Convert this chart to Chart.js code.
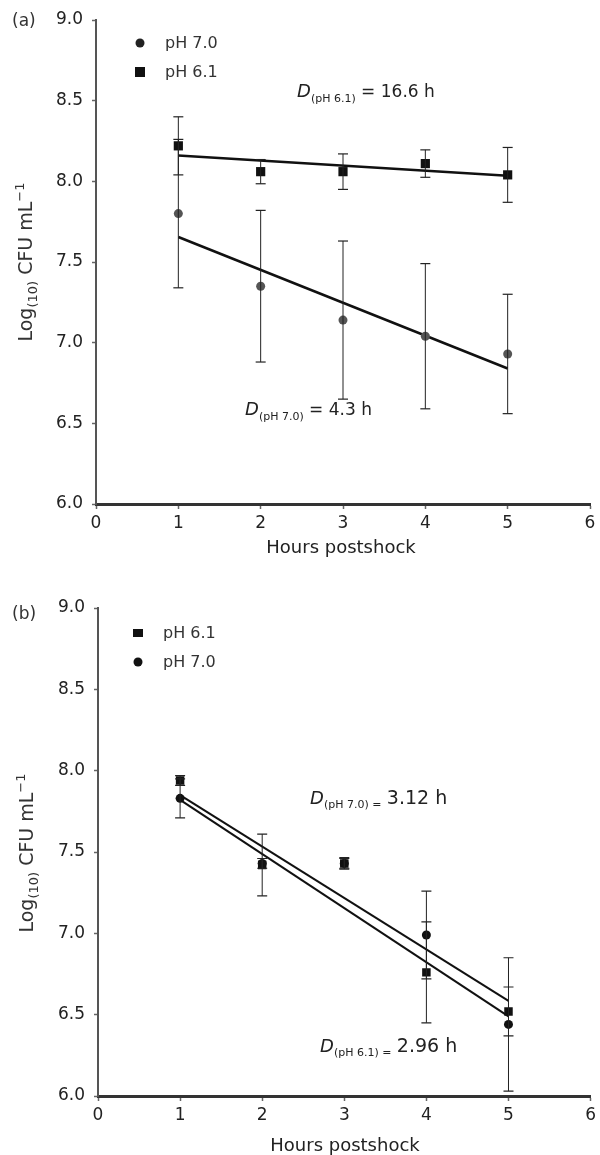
<!DOCTYPE html>
<html>
<head>
<meta charset="utf-8">
<script src="https://cdn.jsdelivr.net/npm/chart.js@4.4.1/dist/chart.umd.min.js"></script>
<style>
  html, body { margin:0; padding:0; background:#fff; }
  #wrap { position:relative; width:600px; height:1155px; overflow:hidden; font-family:"DejaVu Sans", sans-serif; color:#333; }
  .cv { position:absolute; left:0; }
  .t { position:absolute; white-space:nowrap; transform:translateY(-50%); line-height:1; }
  .ytitle { position:absolute; white-space:nowrap; transform:translate(-50%,-50%) rotate(-90deg); font-size:19px; line-height:1; color:#333; }
  .ytitle sub, .ytitle sup { font-size:13px; }
  .xtitle { position:absolute; white-space:nowrap; transform:translate(-50%,-50%); font-size:18px; line-height:1; color:#222; }
  .ann { position:absolute; white-space:nowrap; transform:translateY(-50%); font-size:17px; line-height:1; color:#222; }
  .ann i { font-size:18px; }
  .ann sub { font-size:11px; }
  .annb { font-size:19px; }
  .lg { position:absolute; white-space:nowrap; transform:translateY(-50%); font-size:16px; line-height:1; color:#333; }
  .mk { position:absolute; background:#111; transform:translate(-50%,-50%); }
</style>
</head>
<body>
<div id="wrap">
  <canvas id="ca" class="cv" width="600" height="577" style="top:0;width:600px;height:577px"></canvas>
  <canvas id="cb" class="cv" width="600" height="578" style="top:577px;width:600px;height:578px"></canvas>

  <!-- panel (a) texts -->
  <div class="t" style="left:12px;top:20px;font-size:17px;">(a)</div>
  <div class="mk" style="left:140px;top:43px;width:9px;height:9px;border-radius:50%;background:#222"></div>
  <div class="lg" style="left:165px;top:43px;">pH 7.0</div>
  <div class="mk" style="left:140px;top:72px;width:10px;height:10px;"></div>
  <div class="lg" style="left:165px;top:72px;">pH 6.1</div>
  <div class="ann" style="left:297px;top:93px;"><i>D</i><sub>(pH 6.1)</sub> = 16.6 h</div>
  <div class="ann" style="left:245px;top:411px;"><i>D</i><sub>(pH 7.0)</sub> = 4.3 h</div>
  <div class="ytitle" style="left:26px;top:262px;">Log<sub>(10)</sub> CFU mL<sup>−1</sup></div>
  <div class="xtitle" style="left:341px;top:547px;">Hours postshock</div>

  <!-- panel (b) texts -->
  <div class="t" style="left:12px;top:613px;font-size:17px;">(b)</div>
  <div class="mk" style="left:138px;top:633px;width:10px;height:8px;"></div>
  <div class="lg" style="left:163px;top:633px;">pH 6.1</div>
  <div class="mk" style="left:138px;top:662px;width:9px;height:9px;border-radius:50%;"></div>
  <div class="lg" style="left:163px;top:662px;">pH 7.0</div>
  <div class="ann" style="left:310px;top:799px;"><i>D</i><sub>(pH 7.0) =</sub> <span class="annb">3.12 h</span></div>
  <div class="ann" style="left:320px;top:1047px;"><i>D</i><sub>(pH 6.1) =</sub> <span class="annb">2.96 h</span></div>
  <div class="ytitle" style="left:27px;top:853px;">Log<sub>(10)</sub> CFU mL<sup>−1</sup></div>
  <div class="xtitle" style="left:345px;top:1145px;">Hours postshock</div>
</div>

<script>
// ---------- data ----------
const hours = [1, 2, 3, 4, 5];
const fitHours = [1, 5];
const xTickStep = 1;
const yTickStep = 0.5;

// panel (a)
const aPH70    = [7.80, 7.35, 7.14, 7.04, 6.93];
const aPH70Err = [0.46, 0.47, 0.49, 0.45, 0.37];
const aPH61    = [8.22, 8.06, 8.06, 8.11, 8.04];
const aPH61Err = [0.18, 0.075, 0.11, 0.085, 0.17];
const aFit70   = [7.655, 6.84];
const aFit61   = [8.16, 8.035];

// panel (b)
const bPH61    = [7.94, 7.42, 7.43, 6.76, 6.52];
const bPH61Err = [0.03, 0.19, 0.03, 0.31, 0.15];
const bPH70    = [7.83, 7.43, 7.43, 6.99, 6.44];
const bPH70Err = [0.12, 0.03, 0.035, 0.27, 0.41];
const bFit70   = [7.85, 6.585];
const bFit61   = [7.82, 6.49];

// ---------- helpers ----------
function pts(xs, ys) { return xs.map((x, i) => ({ x: x, y: ys[i] })); }

function errorBarSets(xs, ys, es, color) {
  return xs.map((x, i) => ({
    data: [{ x: x, y: ys[i] - es[i] }, { x: x, y: ys[i] + es[i] }],
    showLine: true,
    borderColor: color,
    borderWidth: 1,
    pointStyle: 'line',
    pointRadius: 5,
    pointBorderColor: color,
    pointBorderWidth: 1.2,
    order: 1
  }));
}

function markerSet(xs, ys, style, radius, color) {
  return {
    data: pts(xs, ys),
    showLine: false,
    pointStyle: style,
    pointRadius: radius,
    pointBackgroundColor: color,
    pointBorderColor: color,
    pointBorderWidth: 0,
    order: 2
  };
}

function fitSet(ys, width) {
  return {
    data: pts(fitHours, ys),
    showLine: true,
    borderColor: '#111',
    borderWidth: width,
    pointRadius: 0,
    order: 3
  };
}

function makeChart(id, g, datasets) {
  const tickFont = { family: 'DejaVu Sans', size: 17 };
  return new Chart(document.getElementById(id), {
    type: 'scatter',
    data: { datasets: datasets },
    options: {
      responsive: false,
      animation: false,
      devicePixelRatio: 1,
      layout: { padding: { left: 0, top: g.top, right: 600 - g.right, bottom: 0 } },
      plugins: { legend: { display: false }, tooltip: { enabled: false } },
      scales: {
        x: {
          type: 'linear', min: 0, max: 6,
          ticks: { stepSize: xTickStep, color: '#222', font: tickFont, padding: 4 },
          grid: { drawOnChartArea: false, drawTicks: true, tickLength: 5, tickColor: '#666', tickWidth: 1.5 },
          border: { display: true, color: '#333', width: 3 },
          afterFit: s => { s.height = g.h - g.bottom; }
        },
        y: {
          type: 'linear', min: 6, max: 9,
          ticks: { stepSize: yTickStep, color: '#222', font: tickFont, padding: 9,
                   callback: v => Number(v).toFixed(1) },
          grid: { drawOnChartArea: false, drawTicks: true, tickLength: 4, tickColor: '#666', tickWidth: 1.5 },
          border: { display: true, color: '#555', width: 2 },
          afterFit: s => { s.width = g.left; }
        }
      }
    }
  });
}

// ---------- panel (a) ----------
makeChart('ca', { left: 96, right: 590, top: 20, bottom: 504, h: 577 }, [
  ...errorBarSets(hours, aPH70, aPH70Err, '#222'),
  ...errorBarSets(hours, aPH61, aPH61Err, '#222'),
  markerSet(hours, aPH70, 'circle', 4.5, '#555'),
  markerSet(hours, aPH61, 'rect', 6.5, '#111'),
  fitSet(aFit70, 2.5),
  fitSet(aFit61, 2.5)
]);

// ---------- panel (b) ----------
makeChart('cb', { left: 98, right: 595, top: 31, bottom: 519, h: 578 }, [
  ...errorBarSets(hours, bPH61, bPH61Err, '#222'),
  ...errorBarSets(hours, bPH70, bPH70Err, '#222'),
  markerSet(hours, bPH70, 'circle', 4.5, '#111'),
  markerSet(hours, bPH61, 'rect', 6, '#111'),
  fitSet(bFit70, 2),
  fitSet(bFit61, 2)
]);
</script>
</body>
</html>
